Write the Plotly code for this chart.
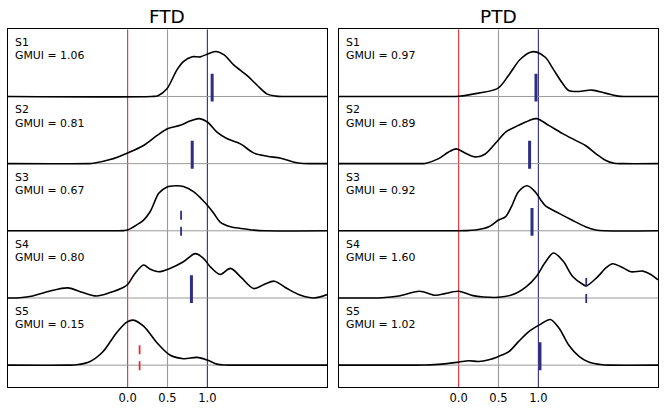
import plotly.graph_objects as go

# ---------------- data ----------------
PANELS = ["FTD", "PTD"]
SUBJECTS = ["S1", "S2", "S3", "S4", "S5"]
REF_LINES = [0.0, 0.5, 1.0]
TICK_VALS = [0.0, 0.5, 1.0]
TICK_TEXT = ["0.0", "0.5", "1.0"]

FTD_GMUI = [1.06, 0.81, 0.67, 0.80, 0.15]
PTD_GMUI = [0.97, 0.89, 0.92, 1.60, 1.02]
FTD_SOLID = [True, True, False, True, False]
PTD_SOLID = [True, True, True, False, True]

FTD_S1_X = [-1.5, 0.30, 0.38, 0.49, 0.62, 0.70, 0.81, 0.91, 1.02, 1.11, 1.21, 1.33, 1.50, 1.63, 1.75, 1.86, 1.95, 2.5]
FTD_S1_Y = [0, 0, 0.01, 0.11, 0.40, 0.52, 0.59, 0.59, 0.64, 0.67, 0.62, 0.47, 0.31, 0.16, 0.035, 0.005, 0, 0]
FTD_S2_X = [-1.5, -0.5, -0.43, -0.22, 0.0, 0.20, 0.37, 0.50, 0.66, 0.79, 0.90, 1.0, 1.12, 1.25, 1.42, 1.58, 1.75, 1.92, 2.09, 2.2, 2.3, 2.5]
FTD_S2_Y = [0, 0, 0.005, 0.06, 0.16, 0.27, 0.42, 0.52, 0.57, 0.64, 0.67, 0.62, 0.47, 0.37, 0.29, 0.16, 0.11, 0.08, 0.02, 0.003, 0, 0]
FTD_S3_X = [-1.5, -0.15, -0.05, 0.0, 0.11, 0.20, 0.28, 0.32, 0.39, 0.49, 0.60, 0.70, 0.83, 0.93, 1.0, 1.08, 1.16, 1.29, 1.42, 1.58, 1.72, 2.5]
FTD_S3_Y = [0, 0, 0.003, 0.012, 0.085, 0.16, 0.28, 0.38, 0.56, 0.65, 0.67, 0.66, 0.58, 0.47, 0.38, 0.26, 0.13, 0.06, 0.035, 0.01, 0, 0]
FTD_S4_X = [-1.5, -1.35, -1.19, -0.98, -0.75, -0.56, -0.39, -0.22, -0.05, 0.0, 0.09, 0.20, 0.28, 0.39, 0.53, 0.70, 0.85, 0.95, 1.04, 1.16, 1.29, 1.42, 1.58, 1.71, 1.84, 2.0, 2.17, 2.34, 2.5]
FTD_S4_Y = [0, 0.003, 0.03, 0.10, 0.15, 0.08, 0.03, 0.08, 0.16, 0.20, 0.36, 0.49, 0.43, 0.39, 0.44, 0.54, 0.66, 0.59, 0.46, 0.35, 0.44, 0.31, 0.14, 0.20, 0.25, 0.14, 0.04, 0.0, 0.05]
FTD_S5_X = [-1.5, -0.75, -0.64, -0.47, -0.31, -0.14, -0.01, 0.07, 0.20, 0.37, 0.53, 0.70, 0.87, 1.0, 1.12, 1.22, 1.3, 2.5]
FTD_S5_Y = [0, 0, 0.005, 0.055, 0.20, 0.48, 0.64, 0.67, 0.58, 0.33, 0.15, 0.095, 0.115, 0.075, 0.015, 0.002, 0, 0]

PTD_S1_X = [-1.5, -0.1, 0.0, 0.25, 0.49, 0.63, 0.77, 0.90, 0.98, 1.09, 1.19, 1.30, 1.38, 1.51, 1.67, 1.84, 2.0, 2.1, 2.5]
PTD_S1_Y = [0, 0, 0.003, 0.05, 0.12, 0.32, 0.55, 0.66, 0.66, 0.58, 0.40, 0.20, 0.09, 0.075, 0.095, 0.05, 0.005, 0, 0]
PTD_S2_X = [-1.5, -0.5, -0.42, -0.25, -0.13, -0.03, 0.08, 0.21, 0.33, 0.46, 0.59, 0.75, 0.88, 0.98, 1.13, 1.30, 1.46, 1.59, 1.72, 1.84, 1.95, 2.05, 2.5]
PTD_S2_Y = [0, 0, 0.003, 0.075, 0.17, 0.22, 0.16, 0.10, 0.14, 0.30, 0.47, 0.57, 0.64, 0.67, 0.57, 0.45, 0.35, 0.27, 0.15, 0.05, 0.005, 0, 0]
PTD_S3_X = [-1.5, -0.05, 0.08, 0.21, 0.38, 0.50, 0.59, 0.67, 0.75, 0.86, 0.96, 1.03, 1.09, 1.26, 1.42, 1.59, 1.72, 1.84, 2.5]
PTD_S3_Y = [0, 0, 0.002, 0.012, 0.06, 0.16, 0.21, 0.38, 0.58, 0.67, 0.58, 0.46, 0.37, 0.26, 0.16, 0.06, 0.012, 0, 0]
PTD_S4_X = [-1.5, -1.1, -0.96, -0.75, -0.49, -0.29, -0.17, 0.0, 0.18, 0.31, 0.50, 0.68, 0.85, 0.975, 1.08, 1.19, 1.31, 1.43, 1.56, 1.60, 1.73, 1.85, 1.93, 2.06, 2.16, 2.31, 2.41, 2.5]
PTD_S4_Y = [0, 0, 0.003, 0.03, 0.10, 0.04, 0.065, 0.10, 0.035, 0.015, 0.01, 0.05, 0.17, 0.32, 0.52, 0.67, 0.55, 0.32, 0.20, 0.18, 0.30, 0.45, 0.51, 0.45, 0.39, 0.40, 0.35, 0.27]
PTD_S5_X = [-1.5, -0.6, -0.42, -0.21, 0.0, 0.13, 0.25, 0.38, 0.50, 0.63, 0.75, 0.88, 1.03, 1.15, 1.26, 1.38, 1.51, 1.63, 1.80, 1.9, 2.5]
PTD_S5_Y = [0, 0, 0.002, 0.015, 0.045, 0.065, 0.055, 0.08, 0.13, 0.20, 0.35, 0.50, 0.61, 0.68, 0.55, 0.30, 0.13, 0.045, 0.005, 0, 0]

CURVES = {
    "FTD": [(FTD_S1_X, FTD_S1_Y), (FTD_S2_X, FTD_S2_Y), (FTD_S3_X, FTD_S3_Y), (FTD_S4_X, FTD_S4_Y), (FTD_S5_X, FTD_S5_Y)],
    "PTD": [(PTD_S1_X, PTD_S1_Y), (PTD_S2_X, PTD_S2_Y), (PTD_S3_X, PTD_S3_Y), (PTD_S4_X, PTD_S4_Y), (PTD_S5_X, PTD_S5_Y)],
}
GMUI = {"FTD": FTD_GMUI, "PTD": PTD_GMUI}
SOLID = {"FTD": FTD_SOLID, "PTD": PTD_SOLID}

# ---------------- style ----------------
W, H = 664, 410
FONT = "DejaVu Sans"
RED = "#e22d38"
NAVY = "#2e2e82"
GRAY = "#9a9a9a"
REF_COLORS = [RED, GRAY, NAVY]
X_RANGE = [-1.5, 2.5]
Y_RANGE = [-0.33, 5.0]
MARK_LO, MARK_HI = -0.075, 0.34

DOMAINS_PX = [(8, 327), (339, 658)]
TOP_PX, BOT_PX = 29.3, 387.3
ydom = [1 - BOT_PX / H, 1 - TOP_PX / H]

fig = go.Figure()
shapes = []
annotations = []
n = len(SUBJECTS)

for p, panel in enumerate(PANELS):
    xa = "x" if p == 0 else "x2"
    ya = "y" if p == 0 else "y2"
    for v, c in zip(REF_LINES, REF_COLORS):
        shapes.append(dict(type="line", xref=xa, yref=ya, x0=v, x1=v, y0=Y_RANGE[0], y1=Y_RANGE[1],
                           line=dict(color=c, width=1.1), layer="below"))
    for i, subj in enumerate(SUBJECTS):
        off = n - 1 - i
        shapes.append(dict(type="line", xref=xa, yref=ya, x0=X_RANGE[0], x1=X_RANGE[1], y0=off, y1=off,
                           line=dict(color=GRAY, width=1), layer="below"))
        cx, cy = CURVES[panel][i]
        fig.add_trace(go.Scatter(x=cx, y=[off + v for v in cy], mode="lines", xaxis=xa, yaxis=ya,
                                 line=dict(color="black", width=1.6, shape="spline", smoothing=0.9),
                                 hoverinfo="skip", showlegend=False))
        g = GMUI[panel][i]
        col = RED if g < 0.5 else NAVY
        solid = SOLID[panel][i]
        fig.add_trace(go.Scatter(x=[g, g], y=[off + MARK_LO, off + MARK_HI], mode="lines", xaxis=xa, yaxis=ya,
                                 line=dict(color=col, width=3 if solid else 1.8,
                                           dash="solid" if solid else "9px,7px"),
                                 hoverinfo="skip", showlegend=False))
        annotations.append(dict(x=-1.435, y=off + 0.80, xref=xa, yref=ya, text=subj, showarrow=False,
                                xanchor="left", yanchor="middle", font=dict(size=10.9, color="black", family=FONT)))
        annotations.append(dict(x=-1.435, y=off + 0.605, xref=xa, yref=ya, text=f"GMUI = {g:.2f}", showarrow=False,
                                xanchor="left", yanchor="middle", font=dict(size=10.9, color="black", family=FONT)))
    x0p, x1p = DOMAINS_PX[p]
    annotations.append(dict(x=(x0p + x1p) / 2 / W, y=1 - 16.0 / H, xref="paper", yref="paper", text=panel,
                            showarrow=False, xanchor="center", yanchor="middle",
                            font=dict(size=18.5, color="black", family=FONT)))

axis_common = dict(showgrid=False, zeroline=False, showline=True, mirror=True, linecolor="black", linewidth=1.3)
layout = dict(
    width=W, height=H, margin=dict(l=0, r=0, t=0, b=0),
    paper_bgcolor="white", plot_bgcolor="white",
    font=dict(family=FONT, color="black"),
    shapes=shapes, annotations=annotations, showlegend=False,
)
for p in range(2):
    x0p, x1p = DOMAINS_PX[p]
    xk = "xaxis" if p == 0 else "xaxis2"
    yk = "yaxis" if p == 0 else "yaxis2"
    layout[xk] = dict(axis_common, domain=[x0p / W, x1p / W], range=X_RANGE, tickvals=TICK_VALS, ticktext=TICK_TEXT,
                      ticks="", tickfont=dict(size=11.5, family=FONT, color="black"),
                      anchor="y" if p == 0 else "y2")
    layout[yk] = dict(axis_common, domain=ydom, range=Y_RANGE, showticklabels=False, ticks="",
                      anchor="x" if p == 0 else "x2")
fig.update_layout(**layout)
fig.write_html("out.html", config={"displayModeBar": False},
               post_script="document.body.style.margin='0';document.body.style.overflow='hidden';")
